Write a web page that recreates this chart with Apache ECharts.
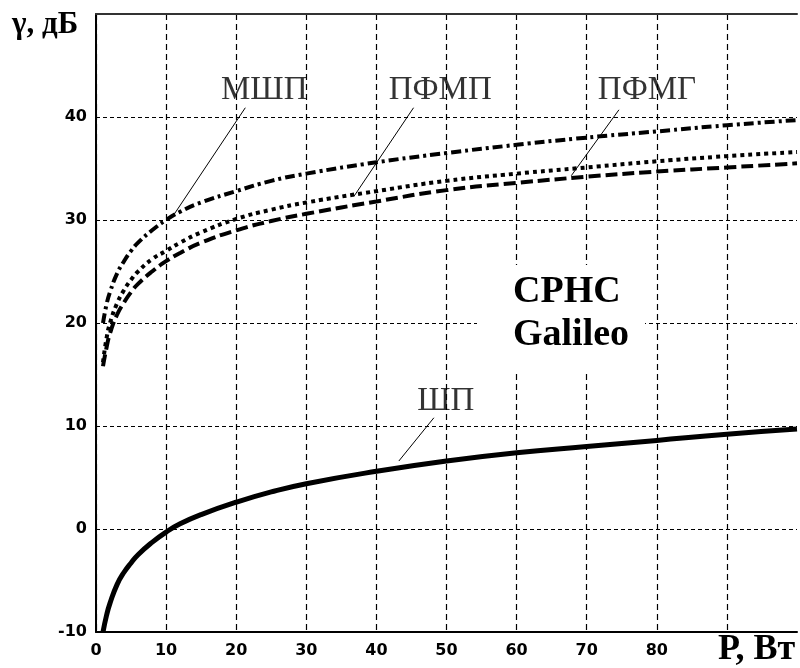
<!DOCTYPE html>
<html lang="ru">

<head>
  <meta charset="UTF-8">
  <title>СРНС Galileo</title>
  <style>
    html, body { margin: 0; padding: 0; background: #fff; }
    #main { width: 800px; height: 668px; }
  </style>
</head>

<body>
  <div id="main"></div>
</body>
<script src="https://cdn.jsdelivr.net/npm/echarts@6/dist/echarts.min.js"></script>
<script>
  // мощность P, Вт
  var power = [1, 1.5, 2, 3, 4, 5, 6, 8, 10, 12, 15, 20, 25, 30, 40, 50, 60, 70, 80, 90, 100];
  // gamma, дБ
  var shp   = [-10.0, -8.4, -7.2, -5.4, -4.2, -3.3, -2.5, -1.3, -0.3, 0.5, 1.4, 2.6, 3.6, 4.4, 5.6, 6.6, 7.4, 8.0, 8.6, 9.2, 9.7];
  var mshp  = [20.0, 21.8, 23.0, 24.8, 26.0, 27.0, 27.8, 29.0, 30.0, 30.8, 31.7, 32.8, 33.8, 34.5, 35.6, 36.5, 37.3, 38.0, 38.6, 39.2, 39.7];
  var pfmp  = [16.2, 18.5, 20.0, 21.9, 23.2, 24.2, 25.0, 26.2, 27.0, 27.8, 28.8, 30.1, 31.0, 31.7, 32.8, 33.8, 34.5, 35.1, 35.7, 36.2, 36.6];
  var pfmg  = [15.8, 17.6, 19.0, 20.8, 22.0, 23.0, 23.8, 25.0, 26.0, 26.8, 27.8, 29.0, 29.9, 30.6, 31.8, 32.9, 33.6, 34.2, 34.7, 35.1, 35.5];

  var xTicks = [0, 10, 20, 30, 40, 50, 60, 70, 80];
  var yTicks = [-10, 0, 10, 20, 30, 40];

  // подписи кривых и выноски
  var labelNames = ['МШП', 'ПФМП', 'ПФМГ', 'ШП'];
  var labelPos = [[24.0, 42.6], [49.1, 42.6], [78.6, 42.6], [49.9, 12.4]];
  var leaderFrom = [[10.8, 30.2], [36.8, 32.3], [67.8, 34.3], [43.2, 6.6]];
  var leaderTo = [[21.3, 40.9], [45.3, 40.9], [74.6, 40.7], [48.2, 10.8]];

  function pairs(xs, ys) {
    var out = [];
    for (var i = 0; i < xs.length; i++) {
      out.push([xs[i], ys[i]]);
    }
    return out;
  }

  function curve(name, data, width, dash) {
    return {
      name: name,
      type: 'line',
      data: pairs(power, data),
      smooth: true,
      showSymbol: false,
      z: 5,
      lineStyle: { color: '#000', width: width, type: dash, cap: 'butt' }
    };
  }

  var leaders = [];
  var labels = [];
  for (var i = 0; i < labelNames.length; i++) {
    leaders.push({ coords: [leaderFrom[i], leaderTo[i]] });
    labels.push({ name: labelNames[i], value: labelPos[i] });
  }

  var serif = '"Liberation Serif", "Times New Roman", serif';

  var myChart = echarts.init(document.getElementById('main'));

  var option = {
    animation: false,
    backgroundColor: '#fff',
    grid: { left: 96, right: 0, top: 14, bottom: 36 },
    xAxis: [{
      type: 'value',
      min: 0, max: 100, interval: 10,
      axisLine: { onZero: false, lineStyle: { color: '#000', width: 2 } },
      axisTick: { show: false },
      axisLabel: {
        margin: 11,
        color: '#000',
        fontFamily: '"DejaVu Sans", sans-serif',
        fontWeight: 'bold',
        fontSize: 16,
        formatter: function (v) { return xTicks.indexOf(v) >= 0 ? String(v) : ''; }
      },
      splitLine: { showMaxLine: false, lineStyle: { color: '#000', width: 1.2, type: [6, 4] } }
    }, {
      // верхняя рамка
      type: 'value',
      position: 'top',
      min: 0, max: 100,
      axisLine: { onZero: false, lineStyle: { color: '#333', width: 2 } },
      axisTick: { show: false },
      axisLabel: { show: false },
      splitLine: { show: false }
    }],
    yAxis: {
      type: 'value',
      min: -10, max: 50, interval: 10,
      axisLine: { show: true, onZero: false, lineStyle: { color: '#000', width: 2 } },
      axisTick: { show: false },
      axisLabel: {
        margin: 9,
        color: '#000',
        fontFamily: '"DejaVu Sans", sans-serif',
        fontWeight: 'bold',
        fontSize: 16,
        formatter: function (v) { return yTicks.indexOf(v) >= 0 ? String(v) : ''; }
      },
      splitLine: { lineStyle: { color: '#000', width: 1.2, type: [4, 3] } }
    },
    series: [
      curve('ШП', shp, 5, 'solid'),
      curve('МШП', mshp, 4, [10, 4, 3, 4]),
      curve('ПФМП', pfmp, 4, [4, 4]),
      curve('ПФМГ', pfmg, 4, [12, 5]),
      {
        name: 'выноски',
        type: 'lines',
        coordinateSystem: 'cartesian2d',
        data: leaders,
        lineStyle: { color: '#000', width: 1, opacity: 1 },
        z: 6
      },
      {
        name: 'подписи',
        type: 'scatter',
        data: labels,
        symbolSize: 0,
        itemStyle: { color: '#000' },
        z: 7,
        label: {
          show: true,
          position: 'inside',
          formatter: '{b}',
          color: '#000',
          textBorderWidth: 0,
          fontFamily: serif,
          fontSize: 33
        }
      }
    ],
    graphic: [
      {
        type: 'rect',
        z: 50,
        shape: { x: 477, y: 265, width: 168, height: 105 },
        style: { fill: '#fff' }
      },
      {
        type: 'text', z: 51, left: 513, top: 273,
        style: { text: 'СРНС', font: 'bold 38px ' + serif, fill: '#000' }
      },
      {
        type: 'text', z: 51, left: 513, top: 316,
        style: { text: 'Galileo', font: 'bold 38px ' + serif, fill: '#000' }
      },
      {
        type: 'text', z: 51, left: 12, top: 9,
        style: { text: 'γ, дБ', font: 'bold 31px ' + serif, fill: '#000' }
      },
      {
        type: 'text', z: 51, left: 718, top: 632,
        style: { text: 'Р, Вт', font: 'bold 36px ' + serif, fill: '#000' }
      }
    ]
  };

  myChart.setOption(option);
</script>

</html>
